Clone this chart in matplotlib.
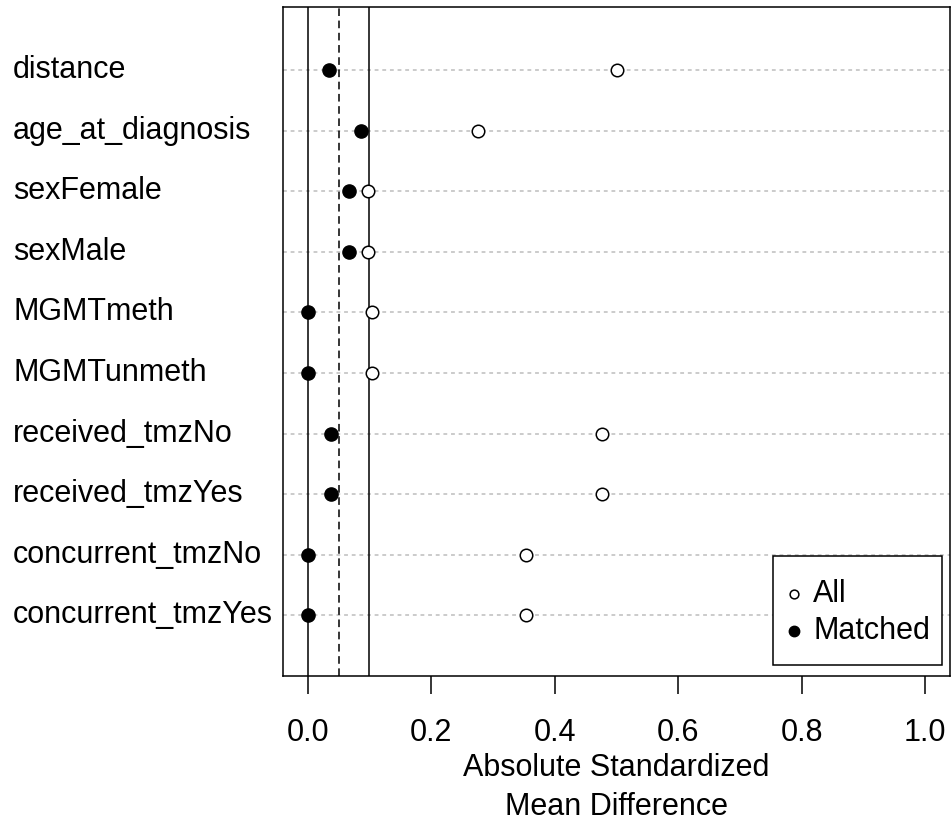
import matplotlib
matplotlib.use("Agg")
import matplotlib.pyplot as plt
from matplotlib.patches import Rectangle
from matplotlib.transforms import blended_transform_factory

plt.rcParams["font.family"] = ["Liberation Sans", "DejaVu Sans"]

covariates = ["distance", "age_at_diagnosis", "sexFemale", "sexMale",
              "MGMTmeth", "MGMTunmeth", "received_tmzNo", "received_tmzYes",
              "concurrent_tmzNo", "concurrent_tmzYes"]
smd_all = [0.501, 0.276, 0.098, 0.098, 0.104, 0.104, 0.476, 0.476, 0.353, 0.353]
smd_matched = [0.034, 0.087, 0.067, 0.067, 0.0, 0.0, 0.037, 0.037, 0.0, 0.0]
thresholds = [0.0, 0.05, 0.1]
threshold_styles = ["-", "--", "-"]
xticks = [0.0, 0.2, 0.4, 0.6, 0.8, 1.0]
legend_labels = ["All", "Matched"]

FS = 22
W, H = 952, 825
AX_L, AX_T, AX_R, AX_B = 283, 7, 950, 676
fig = plt.figure(figsize=(W / 100, H / 100), dpi=100)
ax = fig.add_axes([AX_L / W, 1 - AX_B / H, (AX_R - AX_L) / W, (AX_B - AX_T) / H])

n = len(covariates)
ypos = list(range(n, 0, -1))

# dotted guide lines, one per covariate
for y in ypos:
    ax.axhline(y, color="#bdbdbd", lw=1.1, ls=(0, (2.5, 2.5)), zorder=1)
for t, s in zip(thresholds, threshold_styles):
    if s == "--":
        ax.axvline(t, color="black", lw=1.1, ls=(0, (5, 3)), zorder=2)
    else:
        ax.axvline(t, color="black", lw=1.1, ls="-", zorder=2)

ax.plot(smd_all, ypos, "o", ms=9, mfc="white", mec="black", mew=1.1,
        ls="none", zorder=3)
ax.plot(smd_matched, ypos, "o", ms=9.5, mfc="black", mec="black",
        ls="none", zorder=4)

ax.set_xlim(-0.04, 1.04)
ax.set_ylim(0, 11.04)
ax.set_xticks(xticks)
ax.set_xticklabels([f"{v:.1f}" for v in xticks])
ax.set_yticks([])
ax.tick_params(axis="x", length=13, width=1.1, pad=17, labelsize=FS)
for sp in ax.spines.values():
    sp.set_linewidth(1.1)

lab_tr = blended_transform_factory(fig.transFigure, ax.transData)
for lab, y in zip(covariates, ypos):
    ax.text(13 / W, y, lab, transform=lab_tr, ha="left", va="center", fontsize=FS)

fig.text(616.5 / W, 1 - 768 / H, "Absolute Standardized", ha="center", va="center", fontsize=FS)
fig.text(616.5 / W, 1 - 807 / H, "Mean Difference", ha="center", va="center", fontsize=FS)


# R-style legend box, placed in pixel terms of the axes
def axc(px, py):
    return ((px - AX_L) / (AX_R - AX_L), (AX_B - py) / (AX_B - AX_T))


x0, y0 = axc(773, 665)
x1, y1 = axc(942, 556)
ax.add_patch(Rectangle((x0, y0), x1 - x0, y1 - y0, transform=ax.transAxes,
                       fc="white", ec="black", lw=1.1, zorder=5))
mx, my_all = axc(794, 594)
_, my_match = axc(794, 631)
tx, _ = axc(813, 0)
ax.plot([mx], [my_all], "o", ms=6.3, mfc="white", mec="black", mew=1.1,
        transform=ax.transAxes, zorder=6)
ax.plot([mx], [my_match], "o", ms=7.5, mfc="black", mec="black",
        transform=ax.transAxes, zorder=6)
for lab, ly in zip(legend_labels, [my_all, my_match]):
    ax.text(tx, ly, lab, transform=ax.transAxes, ha="left", va="center",
            fontsize=FS, zorder=6)

fig.savefig("out.png", dpi=100)
